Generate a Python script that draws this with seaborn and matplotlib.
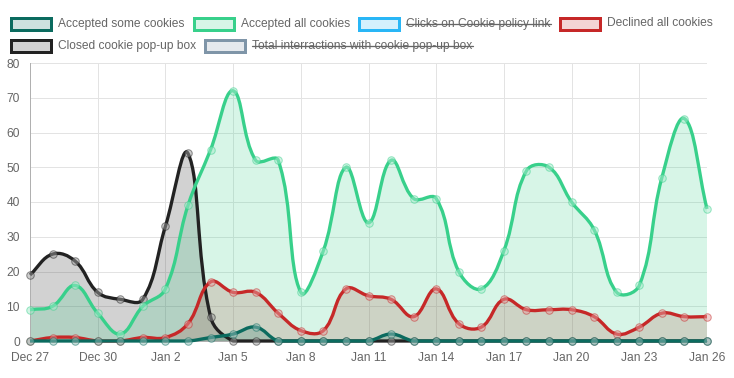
import numpy as np
import pandas as pd
import matplotlib
matplotlib.use("Agg")
import matplotlib.pyplot as plt
import seaborn as sns
from matplotlib.path import Path
from matplotlib.patches import PathPatch, Rectangle
from matplotlib.lines import Line2D
from matplotlib.colors import to_rgb

# ---------------- data ----------------
days = list(range(31))  # Dec 27 .. Jan 26
tick_positions = list(range(0, 31, 3))
tick_labels = ["Dec 27", "Dec 30", "Jan 2", "Jan 5", "Jan 8", "Jan 11",
               "Jan 14", "Jan 17", "Jan 20", "Jan 23", "Jan 26"]

accepted_some = [0, 0, 0, 0, 0, 0, 0, 0, 1, 2, 4, 0, 0, 0, 0, 0, 2, 0, 0, 0,
                 0, 0, 0, 0, 0, 0, 0, 0, 0, 0, 0]
accepted_all = [9, 10, 16, 8, 2, 10, 15, 39, 55, 72, 52, 52, 14, 26, 50, 34, 52,
                41, 41, 20, 15, 26, 49, 50, 40, 32, 14, 16, 47, 64, 38]
declined_all = [0, 1, 1, 0, 0, 1, 1, 5, 17, 14, 14, 8, 3, 3, 15, 13, 12, 7, 15,
                5, 4, 12, 9, 9, 9, 7, 2, 4, 8, 7, 7]
closed_popup = [19, 25, 23, 14, 12, 12, 33, 54, 7, 0, 0, 0, 0, 0, 0, 0, 0, 0, 0,
                0, 0, 0, 0, 0, 0, 0, 0, 0, 0, 0, 0]

legend_labels = ["Accepted some cookies", "Accepted all cookies",
                 "Clicks on Cookie policy link", "Declined all cookies",
                 "Closed cookie pop-up box", "Total interractions with cookie pop-up box"]
legend_hidden = [False, False, True, False, False, True]
legend_colors = ["#0b6b5f", "#38d08b", "#29b6f6", "#c62828", "#222222", "#7f95a8"]

# ---------------- style ----------------
sns.set_theme(style="white")
plt.rcParams["font.family"] = ["Liberation Sans", "DejaVu Sans"]

W, H, DPI = 734, 378, 100
PX = 72.0 / DPI  # points per pixel
L, R, T, B = 30, 707, 63, 341

fig = plt.figure(figsize=(W / DPI, H / DPI), dpi=DPI)
ax = fig.add_axes([L / W, 1 - B / H, (R - L) / W, (B - T) / H])
ax.set_xlim(0, 30)
ax.set_ylim(0, 80)

sx = (R - L) / 30.0
sy = (B - T) / 80.0

grid_c = "#e3e3e3"
ax.set_yticks(range(0, 81, 10))
ax.set_xticks(tick_positions)
ax.set_xticklabels(tick_labels)
ax.grid(True, color=grid_c, linewidth=1 * PX)
ax.set_axisbelow(True)
for s in ["top", "right"]:
    ax.spines[s].set_visible(False)
for s in ["left", "bottom"]:
    ax.spines[s].set_color("#b0b0b0")
    ax.spines[s].set_linewidth(1 * PX)
ax.tick_params(axis="both", which="major", direction="out", length=8 * PX,
               width=1 * PX, color=grid_c, labelcolor="#666666",
               labelsize=12 * PX, pad=2 * PX)
ax.tick_params(axis="x", pad=3 * PX)


def spline_paths(xs, ys, tension=0.4):
    px = np.asarray(xs, float) * sx
    py = np.asarray(ys, float) * sy
    n = len(px)
    cp_prev, cp_next = [], []
    for i in range(n):
        p0 = (px[i - 1], py[i - 1]) if i > 0 else (px[i], py[i])
        p2 = (px[i + 1], py[i + 1]) if i < n - 1 else (px[i], py[i])
        d01 = np.hypot(px[i] - p0[0], py[i] - p0[1])
        d12 = np.hypot(p2[0] - px[i], p2[1] - py[i])
        tot = d01 + d12
        s01 = d01 / tot if tot else 0.0
        s12 = d12 / tot if tot else 0.0
        fa, fb = tension * s01, tension * s12
        a = [px[i] - fa * (p2[0] - p0[0]), py[i] - fa * (p2[1] - p0[1])]
        b = [px[i] + fb * (p2[0] - p0[0]), py[i] + fb * (p2[1] - p0[1])]
        for c in (a, b):
            c[0] = min(max(c[0], 0), 30 * sx)
            c[1] = min(max(c[1], 0), 80 * sy)
        cp_prev.append((a[0] / sx, a[1] / sy))
        cp_next.append((b[0] / sx, b[1] / sy))
    verts = [(xs[0], ys[0])]
    codes = [Path.MOVETO]
    for i in range(1, n):
        verts += [cp_next[i - 1], cp_prev[i], (xs[i], ys[i])]
        codes += [Path.CURVE4] * 3
    line = Path(verts, codes)
    fverts = verts + [(xs[-1], 0), (xs[0], 0), (xs[0], 0)]
    fcodes = codes + [Path.LINETO, Path.LINETO, Path.CLOSEPOLY]
    fill = Path(fverts, fcodes)
    return line, fill


# draw order (bottom -> top): closed, declined, accepted all, accepted some
series = [
    (closed_popup, legend_colors[4], 0),
    (declined_all, legend_colors[3], 1),
    (accepted_all, legend_colors[1], 2),
    (accepted_some, legend_colors[0], 3),
]

for vals, col, k in series:
    line, fill = spline_paths(days, vals)
    rgb = to_rgb(col)
    ax.add_patch(PathPatch(fill, facecolor=(*rgb, 0.2), edgecolor="none",
                           zorder=2 + 0.1 * k, clip_on=False))
    ax.add_patch(PathPatch(line, facecolor="none", edgecolor=col,
                           linewidth=3.3 * PX, zorder=3 + k, clip_on=False,
                           capstyle="butt", joinstyle="round"))
    df = pd.DataFrame({"day": days, "value": vals})
    light = tuple(0.55 + 0.45 * c for c in rgb)
    sns.scatterplot(data=df, x="day", y="value", ax=ax, s=(7.5 * PX) ** 2,
                    color=(*light, 0.5), edgecolor=(*rgb, 0.5),
                    linewidth=1 * PX, zorder=3.5 + k, legend=False)
for c in ax.collections:
    c.set_clip_on(False)

ax.set_xlabel("")
ax.set_ylabel("")

# ---------------- legend (pixel overlay) ----------------
lax = fig.add_axes([0, 0, 1, 1], zorder=10)
lax.set_xlim(0, W)
lax.set_ylim(H, 0)
lax.axis("off")
lax.patch.set_alpha(0)

rows = [[0, 1, 2, 3], [4, 5]]
row_y = [23.5, 45.5]
fig.canvas.draw()
renderer = fig.canvas.get_renderer()
for r, idxs in enumerate(rows):
    x = 10.8
    y = row_y[r]
    for i in idxs:
        rgb = to_rgb(legend_colors[i])
        lax.add_patch(Rectangle((x, y - 6), 40, 12, facecolor=(*rgb, 0.2),
                                edgecolor=legend_colors[i], linewidth=3 * PX))
        tx = x + 47
        t = lax.text(tx, y, legend_labels[i], fontsize=12 * PX, color="#666666",
                     va="center", ha="left")
        bb = t.get_window_extent(renderer=renderer)
        w = bb.width
        if legend_hidden[i]:
            lax.add_line(Line2D([tx, tx + w], [y, y], color="#666666",
                                linewidth=1.3 * PX))
        x = tx + w + 9.5

fig.savefig("out.png", dpi=DPI)
